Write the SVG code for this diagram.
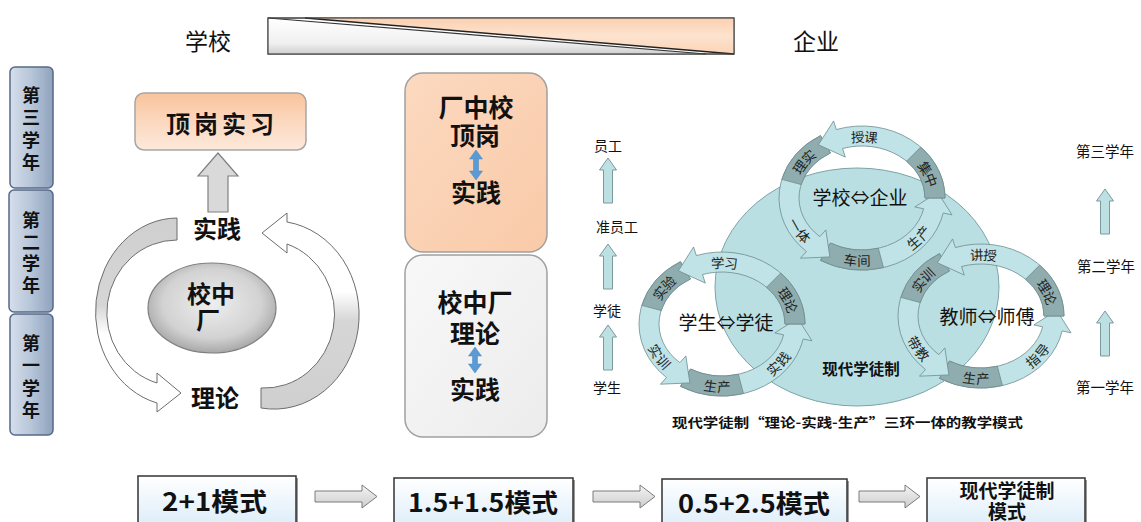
<svg xmlns="http://www.w3.org/2000/svg" xmlns:xlink="http://www.w3.org/1999/xlink" width="1141" height="522" viewBox="0 0 1141 522">
<style>
.cj{font-family:"Noto Sans CJK SC","Noto Sans",sans-serif;fill:#111;}
.b{font-weight:bold;}
.m{text-anchor:middle;}
.rl{font-family:"Noto Sans CJK SC",sans-serif;font-size:13.5px;fill:#222;text-anchor:middle;dominant-baseline:central;}
.ringLight{fill:#bfe3e6;stroke:#6f8c8f;stroke-width:0.8;}
.ringDark{fill:#8fadae;stroke:#6f8c8f;stroke-width:0.8;}
.upA{fill:#bde1e3;stroke:#7a9a9c;stroke-width:1;}
.yearBox{fill:url(#gYear);stroke:#556a88;stroke-width:1.5;}
.botBox{fill:url(#gBot);stroke:#333;stroke-width:1.5;}
.botShadow{fill:#9a9a9a;}
.botArr{fill:url(#gArr);stroke:#7a7a7a;stroke-width:1;}
.blueArr{fill:#5b9bd5;stroke:#4a84bb;stroke-width:0.5;}
</style>
<defs>
<linearGradient id="gYear" x1="0" y1="0" x2="1" y2="0">
<stop offset="0" stop-color="#d6deeb"/><stop offset="0.5" stop-color="#b6c5d8"/><stop offset="1" stop-color="#8fa2bd"/>
</linearGradient>
<linearGradient id="gPeach" x1="0" y1="0" x2="0" y2="1">
<stop offset="0" stop-color="#f8c39c"/><stop offset="0.5" stop-color="#fbd8bf"/><stop offset="1" stop-color="#fde9db"/>
</linearGradient>
<linearGradient id="gPeachBox" x1="0" y1="0" x2="1" y2="1">
<stop offset="0" stop-color="#fcd9c0"/><stop offset="1" stop-color="#f9caa8"/>
</linearGradient>
<linearGradient id="gGrayBox" x1="0" y1="0" x2="1" y2="1">
<stop offset="0" stop-color="#f8f8f8"/><stop offset="1" stop-color="#ececec"/>
</linearGradient>
<linearGradient id="gBot" x1="0" y1="0" x2="0" y2="1">
<stop offset="0" stop-color="#ffffff"/><stop offset="1" stop-color="#dcedf9"/>
</linearGradient>
<linearGradient id="gArr" x1="0" y1="0" x2="0" y2="1">
<stop offset="0" stop-color="#f4f4f4"/><stop offset="1" stop-color="#cdcdcd"/>
</linearGradient>
<linearGradient id="gBarW" x1="0" y1="0" x2="0" y2="1">
<stop offset="0" stop-color="#ffffff"/><stop offset="0.7" stop-color="#f0f0f0"/><stop offset="1" stop-color="#cfcfcf"/>
</linearGradient>
<linearGradient id="gBarP" x1="0" y1="0" x2="0" y2="1">
<stop offset="0" stop-color="#fbd0b0"/><stop offset="0.5" stop-color="#fde3cf"/><stop offset="1" stop-color="#fbd3b5"/>
</linearGradient>
<linearGradient id="gCurveL" x1="0" y1="0" x2="0" y2="1">
<stop offset="0" stop-color="#cfcfcf"/><stop offset="0.45" stop-color="#d6d6d6"/><stop offset="0.6" stop-color="#ffffff"/><stop offset="1" stop-color="#ffffff"/>
</linearGradient>
<linearGradient id="gCurveR" x1="0" y1="1" x2="0" y2="0">
<stop offset="0" stop-color="#cfcfcf"/><stop offset="0.45" stop-color="#d6d6d6"/><stop offset="0.6" stop-color="#ffffff"/><stop offset="1" stop-color="#ffffff"/>
</linearGradient>
<radialGradient id="gEll" cx="0.5" cy="0.45" r="0.55">
<stop offset="0" stop-color="#eeeeee"/><stop offset="0.7" stop-color="#d2d2d2"/><stop offset="1" stop-color="#a8a8a8"/>
</radialGradient>
<path id="upArrow" d="M0 0 L8.5 12 L4.5 12 L4.5 45 L-4.5 45 L-4.5 12 L-8.5 12 Z"/>
<g id="ring">
<path class="ringLight" d="M -41.5 62.35 A 83 72 0 0 0 81.19 14.97 L 89.99 16.84 L 75.71 -5.67 L 52.82 8.94 L 61.62 10.81 A 63 52 0 0 1 -31.5 45.03 Z"/>
<path class="ringDark" d="M -41.5 62.35 A 83 72 0 0 0 21.48 69.55 L 16.30 50.23 A 63 52 0 0 1 -31.5 45.03 Z"/>
<path class="ringLight" d="M -41.5 -62.35 A 83 72 0 0 0 -55.54 53.50 L -61.56 60.19 L -32.12 58.91 L -36.13 31.95 L -42.15 38.64 A 63 52 0 0 1 -31.5 -45.03 Z"/>
<path class="ringDark" d="M -41.5 -62.35 A 83 72 0 0 0 -80.17 -18.64 L -60.85 -13.46 A 63 52 0 0 1 -31.5 -45.03 Z"/>
<path class="ringLight" d="M 83 0 A 83 72 0 0 0 -25.65 -68.48 L -28.43 -77.04 L -43.59 -53.25 L -16.69 -40.90 L -19.47 -49.46 A 63 52 0 0 1 63 0 Z"/>
<path class="ringDark" d="M 83 0 A 83 72 0 0 0 58.69 -50.91 L 44.55 -36.77 A 63 52 0 0 1 63 0 Z"/>
</g>
<path id="la-dA" d="M 39.76 -52.00 A 73 62 0 0 1 71.13 13.95"/>
<path id="la-lA" d="M -39.76 -52.00 A 73 62 0 0 1 43.93 -49.51"/>
<path id="la-dB" d="M -73 0 A 73 62 0 0 1 -24.97 -58.26"/>
<path id="la-lB" d="M -72.72 -5.41 A 73 62 0 0 0 -30.85 56.19"/>
<path id="la-dC" d="M -45.94 48.18 A 73 62 0 0 0 37.60 53.15"/>
<path id="la-lC" d="M 21.34 59.29 A 73 62 0 0 0 72.90 3.24"/>
</defs>

<rect width="1141" height="522" fill="#ffffff"/>

<!-- top bar -->
<g id="school-enterprise-bar">
<rect x="268" y="18" width="466" height="36" fill="#ffffff" stroke="#555" stroke-width="1"/>
<polygon points="268,18 268,54 706,54" fill="url(#gBarW)"/>
<polygon points="305,18 734,18 734,54" fill="url(#gBarP)"/>
<line x1="268" y1="18" x2="706" y2="54" stroke="#333" stroke-width="1.2"/>
<line x1="305" y1="18" x2="734" y2="54" stroke="#222" stroke-width="1.6"/>
<rect x="268" y="18" width="466" height="36" fill="none" stroke="#444" stroke-width="1.2"/>
<text class="cj m" x="208" y="50" font-size="23">学校</text>
<text class="cj m" x="816" y="50" font-size="23">企业</text>
</g>

<!-- year column -->
<g id="year3">
<rect class="yearBox" x="10" y="67" width="43" height="121" rx="5"/>
<text class="cj b m" font-size="18" x="31"><tspan x="31" y="102">第</tspan><tspan x="31" y="124">三</tspan><tspan x="31" y="147">学</tspan><tspan x="31" y="169">年</tspan></text>
</g>
<g id="year2">
<rect class="yearBox" x="9" y="190" width="44" height="122" rx="5"/>
<text class="cj b m" font-size="18" x="31"><tspan x="31" y="227">第</tspan><tspan x="31" y="249">二</tspan><tspan x="31" y="270">学</tspan><tspan x="31" y="292">年</tspan></text>
</g>
<g id="year1">
<rect class="yearBox" x="10" y="314" width="43" height="121" rx="5"/>
<text class="cj b m" font-size="18" x="31"><tspan x="31" y="350">第</tspan><tspan x="31" y="372">一</tspan><tspan x="31" y="395">学</tspan><tspan x="31" y="417">年</tspan></text>
</g>

<!-- left cycle -->
<g id="internship">
<rect x="135" y="93" width="171" height="57" rx="9" fill="url(#gPeach)" stroke="#a6a6a6" stroke-width="1.5"/>
<text class="cj b m" x="222" y="133" font-size="24" letter-spacing="4">顶岗实习</text>
</g>
<g id="practice-label">
<text class="cj b m" x="217" y="238" font-size="24">实践</text>
</g>
<g id="theory-label">
<text class="cj b m" x="215" y="407" font-size="24">理论</text>
</g>
<g id="school-factory">
<ellipse cx="212" cy="308" rx="64" ry="45" fill="url(#gEll)" stroke="#7f7f7f" stroke-width="1.2"/>
<text class="cj b m" x="211" y="303" font-size="24">校中</text>
<text class="cj b m" x="208" y="329" font-size="24">厂</text>
</g>
<g id="left-connectors">
<path d="M218 153 L238 176 L228 176 L228 212 L208 212 L208 176 L198 176 Z" fill="#d9d9d9" stroke="#808080" stroke-width="1.2"/>
<path d="M 177 218 A 82 94 0 0 0 157 403 L 157 412 L 181 393 L 157 373 L 157 383 A 70 73 0 0 1 177 240 Z" fill="url(#gCurveL)" stroke="#6d6d6d" stroke-width="1"/>
<path d="M 261 408 A 85 94 0 0 0 287 222 L 287 213 L 262 233 L 287 253 L 287 244 A 70 74 0 0 1 261 388 Z" fill="url(#gCurveR)" stroke="#6d6d6d" stroke-width="1"/>
</g>

<!-- middle boxes -->
<g id="factory-school">
<rect x="405" y="73" width="142" height="179" rx="18" fill="url(#gPeachBox)" stroke="#a0a0a0" stroke-width="1.5"/>
<text class="cj b m" x="476" y="117" font-size="25">厂中校</text>
<text class="cj b m" x="475" y="145" font-size="25">顶岗</text>
<path class="blueArr" d="M476 150 L482.5 159 L478.5 159 L478.5 171 L482.5 171 L476 180 L469.5 171 L473.5 171 L473.5 159 L469.5 159 Z"/>
<text class="cj b m" x="476" y="202" font-size="25">实践</text>
</g>
<g id="school-factory-box">
<rect x="405" y="255" width="142" height="182" rx="18" fill="url(#gGrayBox)" stroke="#a0a0a0" stroke-width="1.5"/>
<text class="cj b m" x="475" y="312" font-size="25">校中厂</text>
<text class="cj b m" x="475" y="343" font-size="25">理论</text>
<path class="blueArr" d="M475 347 L481.5 356 L477.5 356 L477.5 364 L481.5 364 L475 373 L468.5 364 L472.5 364 L472.5 356 L468.5 356 Z"/>
<text class="cj b m" x="475" y="399" font-size="25">实践</text>
</g>

<!-- right side columns -->
<g id="role-column">
<text class="cj m" x="608" y="151" font-size="14">员工</text>
<use href="#upArrow" class="upA" transform="translate(608,158)"/>
<text class="cj m" x="617" y="232" font-size="14">准员工</text>
<use href="#upArrow" class="upA" transform="translate(608,244)"/>
<text class="cj m" x="607" y="316" font-size="14">学徒</text>
<use href="#upArrow" class="upA" transform="translate(608,325)"/>
<text class="cj m" x="607" y="393" font-size="14">学生</text>
</g>
<g id="grade-column">
<text class="cj m" x="1105" y="157" font-size="14.5">第三学年</text>
<use href="#upArrow" class="upA" transform="translate(1105,189)"/>
<text class="cj m" x="1106" y="272" font-size="14.5">第二学年</text>
<use href="#upArrow" class="upA" transform="translate(1105,311)"/>
<text class="cj m" x="1105" y="393" font-size="14.5">第一学年</text>
</g>

<!-- modern apprenticeship diagram -->
<g id="apprenticeship-core">
<ellipse cx="857" cy="287" rx="142" ry="119" fill="#b9dfe2" stroke="#7ea3a6" stroke-width="1"/>
<text class="cj m" x="861" y="375" font-size="15.5" font-weight="bold" fill="#222">现代学徒制</text>
</g>
<g id="ring-school-enterprise" transform="translate(862,198)">
<use href="#ring"/>
<text class="rl"><textPath href="#la-dA" startOffset="50%">集中</textPath></text>
<text class="rl"><textPath href="#la-lA" startOffset="50%">授课</textPath></text>
<text class="rl"><textPath href="#la-dB" startOffset="50%">理实</textPath></text>
<text class="rl"><textPath href="#la-lB" startOffset="50%">一体</textPath></text>
<text class="rl"><textPath href="#la-dC" startOffset="50%">车间</textPath></text>
<text class="rl"><textPath href="#la-lC" startOffset="50%">生产</textPath></text>
<text class="cj m" x="-2" y="7" font-size="19">学校⇔企业</text>
</g>
<g id="ring-student-apprentice" transform="translate(722,324)">
<use href="#ring"/>
<text class="rl"><textPath href="#la-dA" startOffset="50%">理论</textPath></text>
<text class="rl"><textPath href="#la-lA" startOffset="50%">学习</textPath></text>
<text class="rl"><textPath href="#la-dB" startOffset="50%">实验</textPath></text>
<text class="rl"><textPath href="#la-lB" startOffset="50%">实训</textPath></text>
<text class="rl"><textPath href="#la-dC" startOffset="50%">生产</textPath></text>
<text class="rl"><textPath href="#la-lC" startOffset="50%">实践</textPath></text>
<text class="cj m" x="4" y="6" font-size="19">学生⇔学徒</text>
</g>
<g id="ring-teacher-master" transform="translate(981,316)">
<use href="#ring"/>
<text class="rl"><textPath href="#la-dA" startOffset="50%">理论</textPath></text>
<text class="rl"><textPath href="#la-lA" startOffset="50%">讲授</textPath></text>
<text class="rl"><textPath href="#la-dB" startOffset="50%">实训</textPath></text>
<text class="rl"><textPath href="#la-lB" startOffset="50%">带教</textPath></text>
<text class="rl"><textPath href="#la-dC" startOffset="50%">生产</textPath></text>
<text class="rl"><textPath href="#la-lC" startOffset="50%">指导</textPath></text>
<text class="cj m" x="6" y="8" font-size="19">教师⇔师傅</text>
</g>
<g id="caption">
<text class="cj b" x="672" y="427" font-size="13" textLength="351" lengthAdjust="spacingAndGlyphs" fill="#222">现代学徒制“理论-实践-生产”三环一体的教学模式</text>
</g>

<!-- bottom progression -->
<g id="mode-2-1">
<rect class="botShadow" x="140" y="478" width="158" height="50"/>
<rect class="botBox" x="138" y="476" width="158" height="50"/>
<text class="cj b" x="162" y="511" font-size="25" textLength="105" lengthAdjust="spacingAndGlyphs">2+1模式</text>
</g>
<g id="mode-1.5-1.5">
<rect class="botShadow" x="396" y="480" width="179" height="50"/>
<rect class="botBox" x="394" y="478" width="179" height="50"/>
<text class="cj b" x="408" y="512" font-size="25" textLength="150" lengthAdjust="spacingAndGlyphs">1.5+1.5模式</text>
</g>
<g id="mode-0.5-2.5">
<rect class="botShadow" x="664" y="481" width="185" height="50"/>
<rect class="botBox" x="662" y="479" width="185" height="50"/>
<text class="cj b" x="678" y="513" font-size="25" textLength="152" lengthAdjust="spacingAndGlyphs">0.5+2.5模式</text>
</g>
<g id="mode-modern">
<rect class="botShadow" x="929" y="480" width="158" height="50"/>
<rect class="botBox" x="927" y="478" width="158" height="50"/>
<text class="cj b m" x="1007" y="498" font-size="19">现代学徒制</text>
<text class="cj b m" x="1007" y="519" font-size="19">模式</text>
</g>
<g id="bottom-connectors">
<path class="botArr" d="M315 491 L362 491 L362 485 L377 496.5 L362 508 L362 502 L315 502 Z"/>
<path class="botArr" d="M593 491 L640 491 L640 485 L655 496.5 L640 508 L640 502 L593 502 Z"/>
<path class="botArr" d="M859 491 L905 491 L905 485 L920 496.5 L905 508 L905 502 L859 502 Z"/>
</g>
</svg>
